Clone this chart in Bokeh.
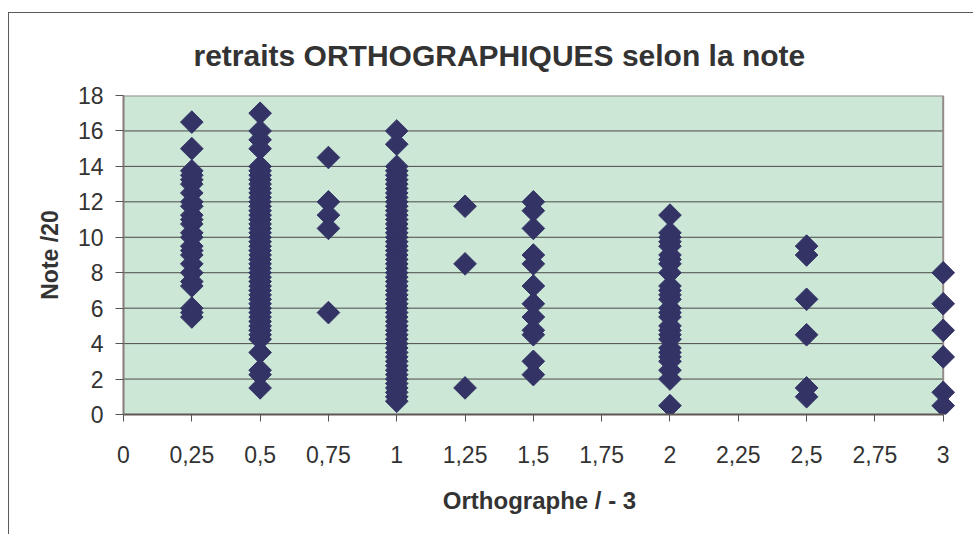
import math
from bokeh.plotting import figure
from bokeh.models import Range1d, FixedTicker, BoxAnnotation, ColumnDataSource
from bokeh.embed import file_html
from bokeh.resources import INLINE

# ---- data ----
notes_025 = [16.5, 15, 13.75, 13.5, 13.25, 13, 12.5, 12, 11.75, 11.25, 11, 10.75,
             10.25, 10, 9.5, 9.25, 9, 8.5, 8, 7.5, 7.25, 6, 5.75, 5.5]
notes_050 = [17, 16, 15.5, 15, 14, 13.75, 13.5, 13.25, 13, 12.75, 12.5, 12.25, 12,
             11.75, 11.5, 11.25, 11, 10.75, 10.5, 10.25, 10, 9.75, 9.5, 9.25, 9,
             8.75, 8.5, 8.25, 8, 7.75, 7.5, 7.25, 7, 6.75, 6.5, 6.25, 6, 5.75,
             5.5, 5.25, 5, 4.75, 4.5, 4.25, 3.5, 2.5, 2.25, 1.5]
notes_075 = [14.5, 12, 11.25, 10.5, 5.75]
notes_100 = [16, 15.25, 14, 13.75, 13.5, 13.25, 13, 12.75, 12.5, 12.25, 12, 11.75,
             11.5, 11.25, 11, 10.75, 10.5, 10.25, 10, 9.75, 9.5, 9.25, 9, 8.75,
             8.5, 8.25, 8, 7.75, 7.5, 7.25, 7, 6.75, 6.5, 6.25, 6, 5.75, 5.5,
             5.25, 5, 4.75, 4.5, 4.25, 4, 3.75, 3.5, 3.25, 3, 2.75, 2.5, 2.25,
             2, 1.75, 1.5, 1.25, 1, 0.75]
notes_125 = [11.75, 8.5, 1.5]
notes_150 = [12, 11.5, 10.5, 9, 8.5, 7.25, 6.25, 5.5, 4.75, 4.5, 3, 2.25]
notes_200 = [11.25, 10.25, 10, 9.75, 9.5, 9, 8.75, 8.5, 8, 7.25, 7, 6.75, 6.5, 6,
             5.75, 5.5, 5, 4.75, 4.5, 4.25, 3.75, 3.5, 3.25, 3, 2.5, 2, 0.5]
notes_250 = [9.5, 9, 6.5, 4.5, 1.5, 1]
notes_300 = [8, 6.25, 4.75, 3.25, 1.25, 0.5]

orth_levels = [0.25, 0.5, 0.75, 1, 1.25, 1.5, 2, 2.5, 3]
notes_by_level = [notes_025, notes_050, notes_075, notes_100, notes_125,
                  notes_150, notes_200, notes_250, notes_300]

x_ticks = [0, 0.25, 0.5, 0.75, 1, 1.25, 1.5, 1.75, 2, 2.25, 2.5, 2.75, 3]
x_tick_labels = ["0", "0,25", "0,5", "0,75", "1", "1,25", "1,5", "1,75",
                 "2", "2,25", "2,5", "2,75", "3"]
y_ticks = [0, 2, 4, 6, 8, 10, 12, 14, 16, 18]

title_text = "retraits ORTHOGRAPHIQUES selon la note"
x_title = "Orthographe / - 3"
y_title = "Note /20"

xs, ys = [], []
for lvl, notes in zip(orth_levels, notes_by_level):
    xs.extend([lvl] * len(notes))
    ys.extend(notes)
src = ColumnDataSource(data=dict(x=xs, y=ys))

X_MAX = x_ticks[-1]
Y_MAX = y_ticks[-1]

FONT = "Liberation Sans"
TXT = "#333333"

p = figure(width=965, height=522,
           x_range=Range1d(0, 3.045), y_range=Range1d(0, 18),
           output_backend="svg", toolbar_location=None,
           min_border_left=114, min_border_top=82,
           min_border_right=19, min_border_bottom=121)
p.styles = {"margin-left": "8px", "margin-top": "12px",
            "border-left": "1px solid #5a5a5a", "border-top": "1px solid #5a5a5a"}
p.background_fill_color = "white"
p.border_fill_color = "white"
p.outline_line_color = None
p.xgrid.visible = False
p.ygrid.visible = False

# plot area background
p.add_layout(BoxAnnotation(left=0, right=X_MAX, bottom=0, top=Y_MAX,
                           fill_color="#cce7d6", fill_alpha=1.0,
                           line_color=None, level="image"))

# horizontal gridlines
inner = y_ticks[1:-1]
p.segment(x0=[0] * len(inner), x1=[X_MAX] * len(inner), y0=inner, y1=inner,
          line_color="#4a4a4a", line_width=1)
# frame top and right borders
p.segment(x0=[0, X_MAX], x1=[X_MAX, X_MAX], y0=[Y_MAX, 0], y1=[Y_MAX, Y_MAX],
          line_color="#958b88", line_width=2)

# points
p.scatter("x", "y", source=src, marker="square", angle=math.pi / 4, size=16,
          fill_color="#333366", line_color="#333366", line_width=1)

# axes
p.xaxis.ticker = FixedTicker(ticks=x_ticks)
p.xaxis.major_label_overrides = {t: l for t, l in zip(x_ticks, x_tick_labels)}
p.yaxis.ticker = FixedTicker(ticks=y_ticks)
p.xaxis.bounds = (0, X_MAX)
p.yaxis.bounds = (0, Y_MAX)
for ax in (p.xaxis[0], p.yaxis[0]):
    ax.minor_tick_line_color = None
    ax.major_tick_in = 0
    ax.axis_line_width = 2
    ax.major_tick_line_color = "#555555"
    ax.major_tick_line_width = 1
    ax.major_label_text_font = FONT
    ax.major_label_text_font_size = "23px"
    ax.major_label_text_color = TXT
    ax.axis_label_text_font = FONT
    ax.axis_label_text_font_style = "bold"
    ax.axis_label_text_color = TXT
p.xaxis.axis_line_color = "#5f5654"
p.yaxis.axis_line_color = "#857b78"
p.xaxis.major_tick_out = 7
p.yaxis.major_tick_out = 8
p.xaxis.major_label_standoff = 24
p.yaxis.major_label_standoff = 12
p.xaxis.axis_label = x_title
p.yaxis.axis_label = y_title
p.xaxis.axis_label_text_font_size = "24px"
p.yaxis.axis_label_text_font_size = "23px"
p.xaxis.axis_label_standoff = 21
p.yaxis.axis_label_standoff = 12

# title
p.title.text = title_text
p.title.align = "left"
p.title.offset = 70
p.title.standoff = 47
p.title.text_font = FONT
p.title.text_font_size = "30px"
p.title.text_font_style = "bold"
p.title.text_color = TXT

open("out.html", "w").write(file_html(p, INLINE))
